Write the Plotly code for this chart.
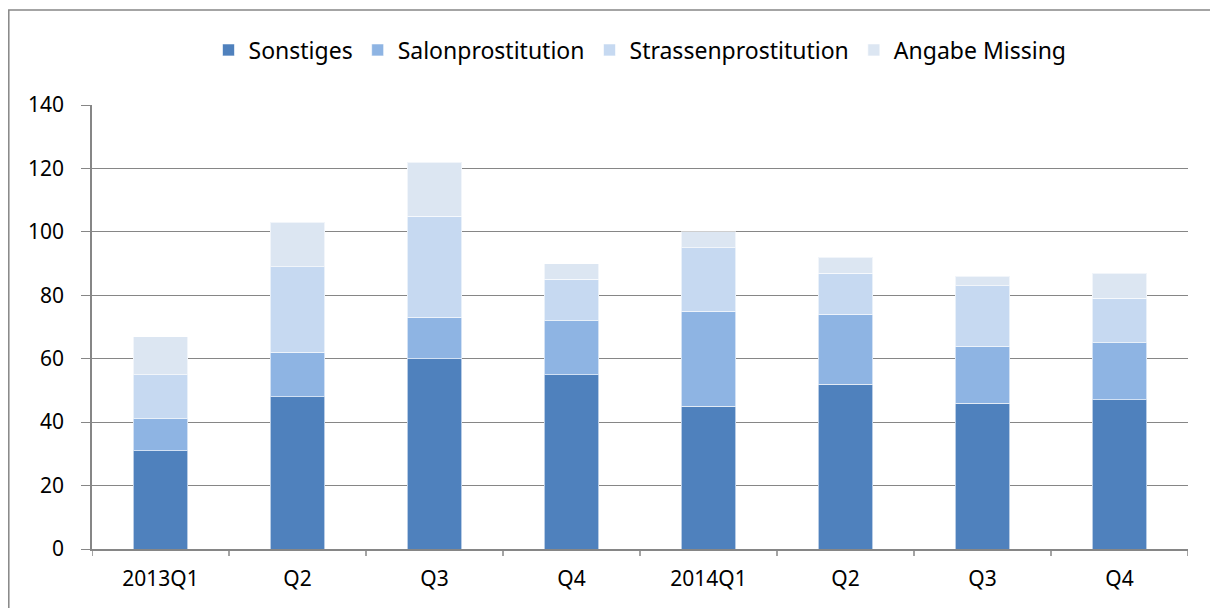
import plotly.graph_objects as go

categories = ["2013Q1", "Q2 ", "Q3 ", "Q4 ", "2014Q1", "Q2", "Q3", "Q4"]
tick_labels = ["2013Q1", "Q2", "Q3", "Q4", "2014Q1", "Q2", "Q3", "Q4"]
sonstiges = [31, 48, 60, 55, 45, 52, 46, 47]
salon = [10, 14, 13, 17, 30, 22, 18, 18]
strassen = [14, 27, 32, 13, 20, 13, 19, 14]
missing = [12, 14, 17, 5, 5, 5, 3, 8]

series = [
    ("Sonstiges", sonstiges, "#4F81BD"),
    ("Salonprostitution", salon, "#8EB4E3"),
    ("Strassenprostitution", strassen, "#C6D9F1"),
    ("Angabe Missing", missing, "#DCE6F2"),
]

x_idx = list(range(len(categories)))
fig = go.Figure()
for name, vals, color in series:
    fig.add_trace(go.Bar(
        x=x_idx, y=vals, name=name,
        marker=dict(color=color, line=dict(color="rgba(255,255,255,0.6)", width=1)),
        width=0.4,
    ))

# page has 8px body margin; figure coordinates are page - 8
W, H = 1210, 600
l, t = 84, 97
plot_right, plot_bottom = 1180, 541
r, b = W - plot_right, H - plot_bottom
pw, ph = plot_right - l, plot_bottom - t

fig.update_layout(
    width=W, height=H,
    barmode="stack",
    margin=dict(l=l, r=r, t=t, b=b),
    paper_bgcolor="white", plot_bgcolor="white",
    font=dict(family="Noto Sans, Calibri, sans-serif", size=21, color="black"),
    showlegend=True,
    legend=dict(orientation="h", x=0.5, xanchor="center", y=1 + (t - 42) / ph, yanchor="middle",
                font=dict(size=23), traceorder="normal", itemwidth=30),
    xaxis=dict(
        tickmode="array", tickvals=x_idx, ticktext=tick_labels,
        range=[-0.5, 7.5],
        showline=True, linecolor="#868686", linewidth=1.5,
        ticks="outside", ticklen=0, showgrid=False,
        tickfont=dict(size=21), ticklabelstandoff=10,
    ),
    yaxis=dict(
        range=[0, 140], dtick=20,
        showline=True, linecolor="#868686", linewidth=1.5,
        ticks="outside", ticklen=9, tickcolor="#868686",
        showgrid=True, gridcolor="#868686", gridwidth=1,
        tickfont=dict(size=21), zeroline=False, ticklabelstandoff=13,
    ),
    bargap=0.6,
)

shapes = []
for i in range(9):
    xb = -0.5 + i
    shapes.append(dict(type="line", xref="x", yref="paper", x0=xb, x1=xb,
                       y0=0, y1=-7 / ph, line=dict(color="#868686", width=1.5)))
# outer chart border
shapes.append(dict(type="rect", xref="paper", yref="paper",
                   x0=(0.8 - l) / pw, x1=(1205 - l) / pw,
                   y0=-(H + 5 - plot_bottom) / ph, y1=(plot_bottom - 2) / ph,
                   line=dict(color="#868686", width=1.5), layer="below"))
fig.update_layout(shapes=shapes)

fig.write_html("out.html")
